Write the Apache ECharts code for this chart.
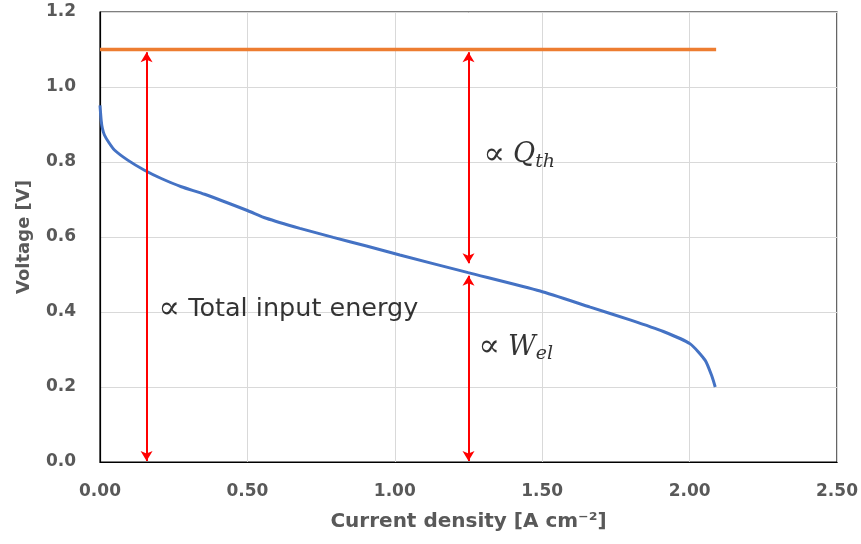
<!DOCTYPE html>
<html>
<head>
<meta charset="utf-8">
<script src="https://cdn.jsdelivr.net/npm/echarts@6/dist/echarts.min.js"></script>
<style>html,body{margin:0;padding:0;background:#fff}#c{width:861px;height:544px}</style>
</head>
<body>
<div id="c"></div>
<script>
// Polarisation curve (current density [A cm-2] vs voltage [V])
const currentDensity = [0, 0.004, 0.008, 0.015, 0.03, 0.049, 0.094, 0.151, 0.208, 0.276, 0.355, 0.502, 0.564, 0.678, 0.791, 0.904, 1.017, 1.249, 1.493, 1.663, 1.798, 1.911, 2.002, 2.053, 2.076, 2.087];
const voltage        = [0.951, 0.911, 0.89, 0.872, 0.852, 0.832, 0.805, 0.778, 0.756, 0.734, 0.714, 0.670, 0.650, 0.623, 0.599, 0.576, 0.552, 0.505, 0.456, 0.413, 0.379, 0.348, 0.315, 0.271, 0.228, 0.200];
// Thermoneutral voltage line
const thermoX = [0, 2.09];
const thermoV = [1.1, 1.1];
// Double-headed arrows: x position, lower end, upper end
const arrowX    = [0.158, 1.25, 1.25];
const arrowLow  = [0.003, 0.53, 0.003];
const arrowHigh = [1.093, 1.093, 0.497];
// Annotation labels: x, y (anchor left-middle)
const annoNames = ['total', 'qth', 'wel'];
const annoX = [0.198, 1.300, 1.283];
const annoY = [0.406, 0.818, 0.305];
// Axis ticks
const xTicks = [0, 0.5, 1.0, 1.5, 2.0, 2.5];
const yTicks = [0, 0.2, 0.4, 0.6, 0.8, 1.0, 1.2];

const chart = echarts.init(document.getElementById('c'));
const tickFont = {fontFamily: 'DejaVu Sans', fontWeight: 'bold', fontSize: 17, color: '#595959'};

const curve = currentDensity.map((x, i) => [x, voltage[i]]);
const thermo = thermoX.map((x, i) => [x, thermoV[i]]);
const arrows = arrowX.map((x, i) => [{coord: [x, arrowLow[i]]}, {coord: [x, arrowHigh[i]]}]);

const annoFormat = {
  total: '{p|∝}{s| Total input energy}',
  qth: '{p|∝}{s| }{m|Q}{b|th}',
  wel: '{p|∝}{s| }{m|W}{b|el}'
};
const annoData = annoNames.map((n, i) => ({value: [annoX[i], annoY[i]], name: n}));

chart.setOption({
  animation: false,
  grid: {left: 100, right: 24, top: 12, bottom: 82, show: true, borderColor: '#000', borderWidth: 1.2},
  xAxis: {
    type: 'value', min: xTicks[0], max: xTicks[xTicks.length - 1], interval: 0.5,
    name: 'Current density [A cm⁻²]', nameLocation: 'middle', nameGap: 50,
    nameTextStyle: {fontFamily: 'DejaVu Sans', fontWeight: 'bold', fontSize: 20, color: '#595959'},
    axisLine: {show: true, lineStyle: {color: '#000', width: 1.2}},
    axisTick: {show: false},
    axisLabel: Object.assign({margin: 21, formatter: v => v.toFixed(2)}, tickFont),
    splitLine: {show: true, lineStyle: {color: '#d9d9d9', width: 1}}
  },
  yAxis: {
    type: 'value', min: yTicks[0], max: yTicks[yTicks.length - 1], interval: 0.2,
    name: 'Voltage [V]', nameLocation: 'middle', nameGap: 67,
    nameTextStyle: {fontFamily: 'DejaVu Sans', fontWeight: 'bold', fontSize: 18, color: '#595959'},
    axisLine: {show: true, lineStyle: {color: '#000', width: 1.2}},
    axisTick: {show: false},
    axisLabel: Object.assign({margin: 24, formatter: v => v.toFixed(1)}, tickFont),
    splitLine: {show: true, lineStyle: {color: '#d9d9d9', width: 1}}
  },
  series: [
    {
      type: 'line', data: thermo, showSymbol: false, symbol: 'none',
      lineStyle: {color: '#ED7D31', width: 3.5}, z: 3
    },
    {
      type: 'line', data: curve, showSymbol: false, symbol: 'none', smooth: 0.2,
      lineStyle: {color: '#4472C4', width: 3}, z: 4,
      markLine: {
        silent: true, symbol: ['arrow', 'arrow'], symbolSize: [9, 10],
        label: {show: false},
        lineStyle: {color: '#FF0000', width: 2, type: 'solid'},
        data: arrows, z: 5
      }
    },
    {
      type: 'scatter', data: annoData, symbolSize: 0, silent: true, z: 6,
      label: {
        show: true, position: 'right', distance: 0, color: '#000',
        formatter: p => annoFormat[p.name],
        rich: {
          p: {fontFamily: 'DejaVu Serif', fontSize: 32, color: '#000', lineHeight: 34, verticalAlign: 'middle'},
          s: {fontFamily: 'DejaVu Sans', fontSize: 25.5, color: '#000', lineHeight: 34, verticalAlign: 'middle'},
          m: {fontFamily: 'DejaVu Serif', fontStyle: 'italic', fontSize: 27, color: '#000', lineHeight: 34, verticalAlign: 'middle'},
          b: {fontFamily: 'DejaVu Serif', fontStyle: 'italic', fontSize: 19, color: '#000', lineHeight: 34, padding: [13, 0, 0, 0], verticalAlign: 'middle'}
        }
      }
    }
  ]
});
</script>
</body>
</html>
